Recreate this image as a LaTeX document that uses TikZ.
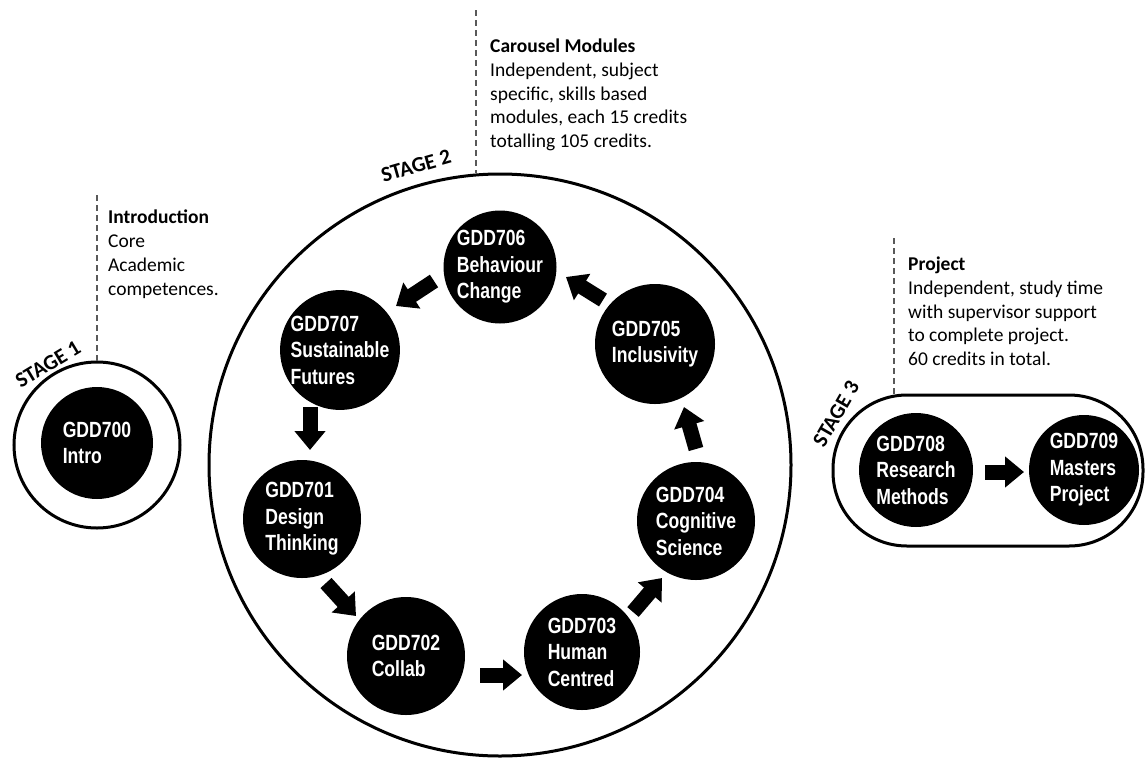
\documentclass[tikz,border=0pt]{standalone}
\usepackage{fontspec}
\setmainfont{Carlito}
\newfontfamily\circfont[FakeStretch=0.8]{Liberation Sans}
\usetikzlibrary{arrows.meta}
\begin{document}
\begin{tikzpicture}[x=1pt,y=-1pt,
  module/.style={circle, fill=black, text=white, inner sep=0pt, align=left,
    font=\circfont\bfseries\fontsize{22}{26.5}\selectfont},
  stagering/.style={draw=black, line width=3pt, circle, inner sep=0pt},
  flow/.style={line width=15pt, -{Triangle[length=19pt,width=30pt]}},
  guide/.style={draw=black!65, line width=1.2pt, dash pattern=on 6pt off 4pt},
  note/.style={anchor=north west, align=left, inner sep=0pt,
    font=\fontsize{19.5}{23.7}\selectfont},
  stagelabel/.style={font=\bfseries\fontsize{21.5}{24}\selectfont, inner sep=0pt}]
\useasboundingbox (0,0) rectangle (1146,758);

% stage containers
\node[stagering, minimum size=166pt] (s1) at (97,445) {};
\node[stagering, minimum size=582pt] (s2) at (500,465) {};
\node[draw=black, line width=3pt, rounded corners=74pt, inner sep=0pt,
      minimum width=310pt, minimum height=151pt] (s3) at (988,470.5) {};

% stage labels
\node[stagelabel, rotate=31] (l1) at (48,364) {STAGE 1};
\node[stagelabel, rotate=16] (l2) at (416,166) {STAGE 2};
\node[stagelabel, rotate=60] (l3) at (836,414) {STAGE 3};

% notes with dashed guides
\coordinate (g1) at (97,195);
\coordinate (g2) at (476,10);
\coordinate (g3) at (894,238);
\draw[guide] (g1) -- (s1.north);
\draw[guide] (g2) -- (g2 |- s2.north);
\draw[guide] (g3) -- (g3 |- s3.north);
\node[note] (t1) at (108,210) {\textbf{Introduction}\\Core\\Academic\\competences.};
\node[note] (t2) at (490,39) {\textbf{Carousel Modules}\\Independent, subject\\specific, skills based\\modules, each 15 credits\\totalling 105 credits.};
\node[note] (t3) at (908,257) {\textbf{Project}\\Independent, study time\\with supervisor support\\to complete project.\\60 credits in total.};

% modules
\node[module, minimum size=112pt] (m700) at (97,443) {GDD700\\Intro};
\node[module, minimum size=112pt] (m706) at (500,267) {GDD706\\Behaviour\\Change};
\node[module, minimum size=110pt] (m707) at (340,350) {GDD707\\Sustainable\\Futures};
\node[module, minimum size=118pt] (m701) at (302,519) {GDD701\\Design\\Thinking};
\node[module, minimum size=118pt] (m702) at (406,656) {GDD702\\Collab};
\node[module, minimum size=116pt] (m703) at (582,652) {GDD703\\Human\\Centred};
\node[module, minimum size=118pt] (m704) at (696,521) {GDD704\\Cognitive\\Science};
\node[module, minimum size=120pt] (m705) at (655,344) {GDD705\\Inclusivity};
\node[module, minimum size=114pt] (m708) at (916,470) {GDD708\\Research\\Methods};
\node[module, minimum size=110pt] (m709) at (1084,470) {GDD709\\Masters\\Project};

% flow arrows
\coordinate (a1s) at (434,281);  \coordinate (a1e) at (396,306);
\coordinate (a2s) at (310,407);  \coordinate (a2e) at (310,450);
\coordinate (a3s) at (326,583);  \coordinate (a3e) at (356,616);
\coordinate (a4s) at (480,675);  \coordinate (a4e) at (522,675);
\coordinate (a5s) at (633,612);  \coordinate (a5e) at (662,578);
\coordinate (a6s) at (696,449);  \coordinate (a6e) at (684,407);
\coordinate (a7s) at (603,300);  \coordinate (a7e) at (566,277);
\coordinate (a8s) at (985,472);  \coordinate (a8e) at (1024,472);
\draw[flow] (a1s) -- (a1e);
\draw[flow] (a2s) -- (a2e);
\draw[flow] (a3s) -- (a3e);
\draw[flow] (a4s) -- (a4e);
\draw[flow] (a5s) -- (a5e);
\draw[flow] (a6s) -- (a6e);
\draw[flow] (a7s) -- (a7e);
\draw[flow] (a8s) -- (a8e);
\end{tikzpicture}
\end{document}
